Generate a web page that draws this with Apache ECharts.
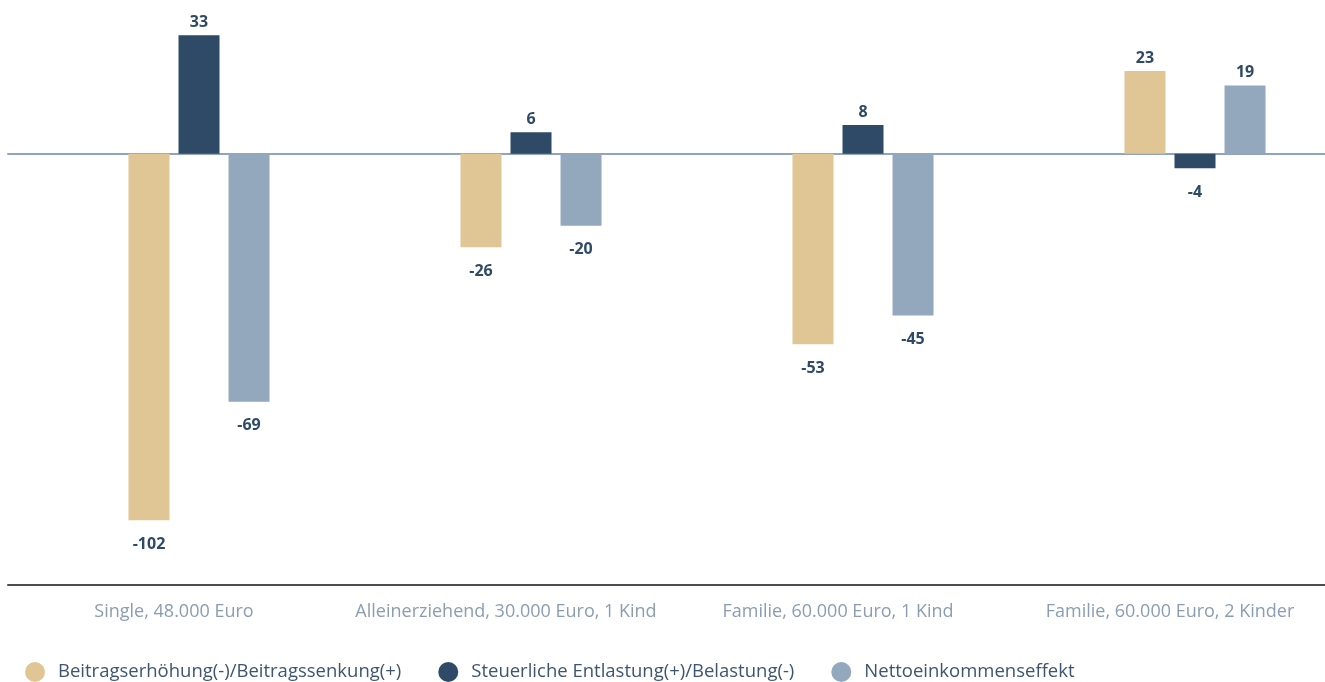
<!DOCTYPE html>
<html>
<head>
    <meta charset="utf-8">
    <title>ECharts</title>
    <script src="https://cdn.jsdelivr.net/npm/echarts@6/dist/echarts.min.js"></script>
    <style>
        html, body { margin: 0; padding: 0; background: #fff; overflow: hidden; }
    </style>
</head>
<body>
    <!-- etwas breiter als das Fenster: rechts ist das Diagramm angeschnitten -->
    <div id="main" style="width: 1336px;height:682px;"></div>
    <script type="text/javascript">
        // Daten
        var categories = ['Single, 48.000 Euro', 'Alleinerziehend, 30.000 Euro, 1 Kind', 'Familie, 60.000 Euro, 1 Kind', 'Familie, 60.000 Euro, 2 Kinder'];
        var seriesNames = ['Beitragserhöhung(-)/Beitragssenkung(+)', 'Steuerliche Entlastung(+)/Belastung(-)', 'Nettoeinkommenseffekt'];
        var beitrag = [-102, -26, -53, 23];
        var steuer = [33, 6, 8, -4];
        var netto = [-69, -20, -45, 19];

        var colors = ['#e0c595', '#2e4a66', '#93a7bd'];

        function withLabels(arr) {
            return arr.map(function (v) {
                return { value: v, label: v < 0 ? { position: 'bottom', distance: 16 } : { position: 'top', distance: 5 } };
            });
        }

        var myChart = echarts.init(document.getElementById('main'));

        var barLabel = {
            show: true,
            color: '#2e4a66',
            fontFamily: 'Open Sans',
            fontWeight: 'bold',
            fontSize: 16
        };

        var option = {
            animation: false,
            grid: { left: 8, top: 10, right: 0, bottom: 97, containLabel: false },
            legend: {
                data: seriesNames,
                left: 25,
                top: 662,
                padding: 0,
                icon: 'circle',
                itemWidth: 20,
                itemHeight: 20,
                itemGap: 37,
                textStyle: { color: '#3e5570', fontSize: 18.5, fontFamily: 'Open Sans', padding: [0, 0, 0, 8] }
            },
            xAxis: [
                {
                    type: 'category',
                    data: categories,
                    axisLine: { onZero: true, lineStyle: { color: '#8fa5bb', width: 2 } },
                    axisTick: { show: false },
                    axisLabel: { show: false }
                },
                {
                    type: 'category',
                    data: categories,
                    position: 'bottom',
                    axisLine: { onZero: false, lineStyle: { color: '#4d4d4d', width: 2 } },
                    axisTick: { show: false },
                    axisLabel: { color: '#8a9db2', fontSize: 18, fontFamily: 'Open Sans', margin: 18, interval: 0 }
                }
            ],
            yAxis: {
                type: 'value',
                min: -120,
                max: 40,
                show: false,
                splitLine: { show: false }
            },
            series: [
                // leerer Platzhalter, damit die Balkengruppe rechts von der Mitte sitzt
                { name: '_', type: 'bar', data: [], barWidth: 41 },
                { name: seriesNames[0], type: 'bar', data: withLabels(beitrag), itemStyle: { color: colors[0] }, barWidth: 41, label: barLabel },
                { name: seriesNames[1], type: 'bar', data: withLabels(steuer), itemStyle: { color: colors[1] }, barWidth: 41, label: barLabel },
                { name: seriesNames[2], type: 'bar', data: withLabels(netto), itemStyle: { color: colors[2] }, barWidth: 41, barGap: '22%', label: barLabel }
            ]
        };

        myChart.setOption(option);
    </script>
</body>
</html>
